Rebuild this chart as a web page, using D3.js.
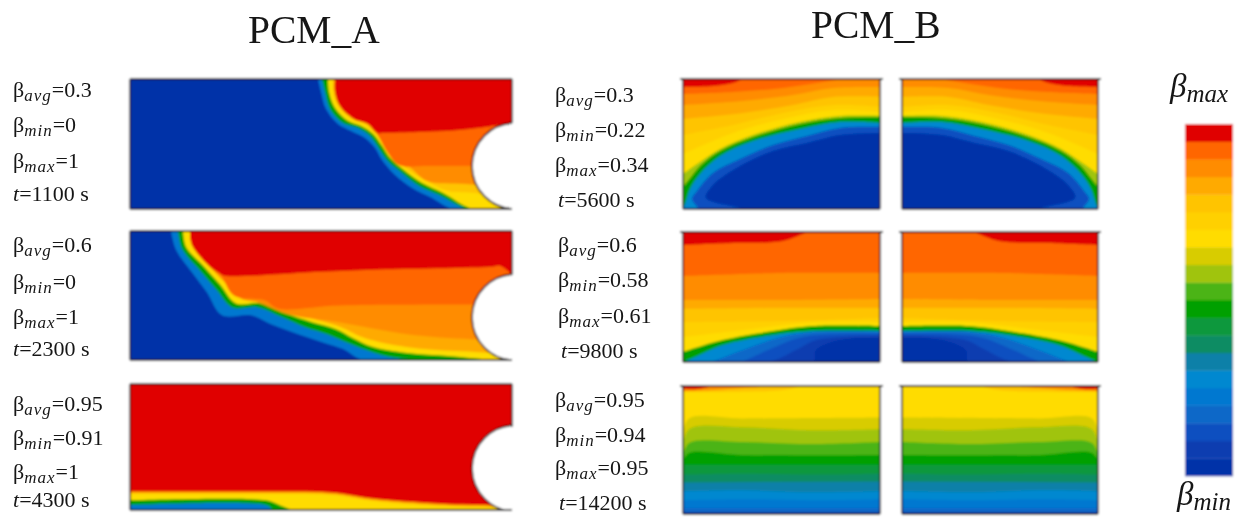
<!DOCTYPE html>
<html>
<head>
<meta charset="utf-8">
<script src="https://cdn.jsdelivr.net/npm/d3@7"></script>
<style>
  html, body { margin: 0; padding: 0; background: #fff; }
  text { font-family: "Liberation Serif", serif; fill: #161616; }
</style>
</head>
<body>
<div id="chart"></div>
<script>
// colour levels of the legend, lowest to highest
const levelColors = ["#0430a8", "#0a3cb0", "#0850c0", "#0868c8", "#0478d0", "#0088d0", "#0a80a8", "#0e8c64", "#10983c", "#00a000",
  "#4cb414", "#a0c408", "#d8cc00", "#ffdc00", "#ffd000", "#ffc400", "#ffaa00", "#ff8c00", "#ff6600", "#e00000"];

const avgValues = [["0.3", "0.6", "0.95"], ["0.3", "0.6", "0.95"]];
const minValues = [["0", "0", "0.91"], ["0.22", "0.58", "0.94"]];
const maxValues = [["1", "1", "1"], ["0.34", "0.61", "0.95"]];
const timeValues = [["1100 s", "2300 s", "4300 s"], ["5600 s", "9800 s", "14200 s"]];
const titles = ["PCM_A", "PCM_B"];

// contours: [level, points] in cell units, everything on the hot side of the line gets that level
// PCM_A cell is 382 x 130, PCM_B half cell is 197 x 130
const a1Contours = [
  [0, [[0, 0], [0, 130], [382, 130]]],
  [4, [[188, 0], [191, 13], [196, 30], [208, 45], [221, 52], [235, 59], [245, 69], [252, 81], [265, 96], [282, 109], [302, 119], [323, 130], [382, 130]]],
  [9, [[192, 0], [195, 13], [200, 30], [213, 44], [228, 49], [240, 57], [248, 68], [257, 81], [272, 94], [289, 107], [309, 116], [338, 130], [382, 130]]],
  [13, [[198, 0], [199, 13], [205, 29], [218, 42], [231, 47], [243, 55], [252, 67], [260, 79], [275, 92], [292, 104], [313, 114], [343, 130], [382, 130]]],
  [15, [[203, 0], [203, 13], [208, 27], [222, 40], [235, 45], [245, 54], [254, 65], [263, 77], [278, 91], [295, 101], [318, 112], [345, 114], [360, 118], [382, 125]]],
  [17, [[205, 0], [205, 13], [210, 27], [224, 40], [238, 45], [248, 54], [257, 65], [268, 78], [282, 90], [297, 102], [336, 105], [382, 108]]],
  [18, [[205, 0], [205, 13], [210, 27], [224, 40], [238, 45], [247, 55], [258, 74], [269, 86], [299, 87], [336, 87], [382, 87]]],
  [19, [[205, 0], [205, 13], [210, 27], [224, 40], [238, 45], [247, 54], [253, 54], [289, 53], [316, 52], [348, 49], [382, 44]]]
];
const a2Contours = [
  [0, [[0, 0], [0, 130], [382, 130]]],
  [4, [[41, 0], [46, 19], [63, 43], [77, 62], [92, 85], [121, 85], [141, 94], [168, 104], [192, 112], [213, 119], [233, 130], [382, 130]]],
  [9, [[48, 0], [52, 18], [70, 40], [87, 60], [102, 77], [128, 77], [152, 87], [175, 97], [197, 104], [216, 112], [236, 120], [260, 127], [311, 130], [382, 130]]],
  [13, [[53, 0], [56, 16], [74, 36], [90, 54], [106, 73], [131, 73], [155, 83], [182, 92], [206, 99], [223, 108], [243, 117], [277, 123], [318, 126], [365, 130], [382, 130]]],
  [16, [[60, 0], [62, 14], [80, 36], [97, 54], [111, 68], [138, 70], [162, 82], [211, 97], [230, 106], [250, 112], [294, 119], [345, 122], [382, 125]]],
  [17, [[60, 0], [62, 14], [80, 36], [97, 54], [111, 68], [128, 72], [158, 84], [209, 92], [277, 104], [341, 109], [382, 110]]],
  [18, [[60, 0], [62, 14], [80, 36], [90, 43], [104, 65], [135, 70], [148, 78], [209, 75], [338, 74], [382, 74]]],
  [19, [[60, 0], [62, 14], [80, 36], [90, 43], [94, 45], [192, 41], [243, 39], [362, 36], [370, 35], [382, 44]]]
];
const a3Contours = [
  [4, [[0, 130], [382, 130]]],
  [9, [[0, 125], [136, 125], [145, 130], [382, 130]]],
  [13, [[0, 120], [136, 120], [150, 125], [165, 130], [382, 130]]],
  [16, [[0, 113], [135, 113], [200, 114], [249, 121], [319, 126], [371, 128], [382, 130]]],
  [19, [[0, 111], [140, 111], [200, 112], [249, 119], [319, 124], [371, 126], [382, 129]]]
];
const b1Contours = [
  [0, [[0, 130], [197, 130]]],
  [2, [[0, 130], [60, 130], [23, 119], [30, 106], [57, 87], [90, 72], [124, 64], [157, 56], [197, 54]]],
  [5, [[0, 130], [15, 130], [9, 120], [14, 112], [30, 94], [57, 80], [90, 66], [124, 57], [157, 49], [197, 48]]],
  [9, [[0, 130], [3, 122], [7, 110], [17, 95], [37, 77], [70, 62], [117, 50], [157, 43], [197, 44]]],
  [11, [[0, 108], [8, 98], [18, 86], [37, 72], [70, 58], [117, 45], [157, 39], [197, 38]]],
  [13, [[0, 95], [17, 83], [37, 70], [70, 56], [117, 43], [157, 37], [197, 37]]],
  [14, [[0, 75], [50, 54], [100, 40], [150, 31], [197, 33]]],
  [15, [[0, 56], [50, 46], [100, 34], [150, 26], [197, 28]]],
  [16, [[0, 40], [60, 34], [110, 26], [150, 18], [197, 18]]],
  [17, [[0, 26], [60, 22], [110, 16], [150, 9], [197, 8]]],
  [18, [[0, 15], [50, 13], [100, 9], [140, 3], [160, 0]]],
  [19, [[0, 8], [30, 7], [50, 4], [60, 0]]]
];
const b2Contours = [
  [0, [[0, 130], [197, 130]]],
  [1, [[0, 130], [130, 130], [133, 118], [157, 108], [197, 106]]],
  [2, [[0, 130], [85, 130], [115, 117], [133, 108], [197, 104]]],
  [3, [[0, 130], [55, 130], [85, 118], [120, 105], [197, 102]]],
  [5, [[0, 130], [25, 130], [60, 118], [95, 106], [130, 100], [197, 100]]],
  [9, [[0, 130], [12, 125], [40, 113], [90, 103], [130, 99], [197, 99]]],
  [13, [[0, 120], [12, 116], [40, 108], [90, 99], [130, 94], [197, 94]]],
  [14, [[0, 105], [60, 98], [130, 90], [197, 90]]],
  [15, [[0, 90], [100, 89], [197, 86]]],
  [16, [[0, 77], [100, 76], [197, 76]]],
  [17, [[0, 68], [100, 68], [197, 67]]],
  [18, [[0, 44], [60, 42], [100, 41], [197, 41]]],
  [19, [[0, 13], [50, 11], [100, 9], [124, 0]]]
];
const b3Contours = [
  [1, [[0, 130], [197, 130]]],
  [3, [[0, 128], [197, 128]]],
  [4, [[0, 124], [197, 124]]],
  [5, [[0, 116], [60, 115], [130, 116], [197, 115]]],
  [6, [[0, 107], [60, 106], [130, 108], [197, 107]]],
  [7, [[0, 98], [197, 97]]],
  [8, [[0, 90], [60, 89], [130, 90], [197, 89]]],
  [9, [[0, 80], [197, 80]]],
  [10, [[0, 76], [6, 68], [60, 70], [197, 70]]],
  [11, [[0, 72], [6, 58], [60, 57], [130, 59], [197, 57]]],
  [12, [[0, 65], [6, 44], [60, 42], [130, 45], [197, 44]]],
  [13, [[0, 50], [6, 33], [60, 33], [197, 32]]],
  [15, [[0, 6], [40, 6], [100, 4], [120, 0]]],
  [17, [[0, 5], [30, 4], [60, 2], [100, 0]]],
  [19, [[0, 3], [15, 3], [30, 0]]]
];

const width = 1243, height = 521;
const cellH = 130;
const holeCx = 385, holeCy = 87, holeR = 43;

const svg = d3.select("#chart").append("svg")
  .attr("width", width)
  .attr("height", height)
  .style("display", "block");

const defs = svg.append("defs");

// source figure is a soft raster
function softFilter(id, amount) {
  defs.append("filter")
    .attr("id", id)
    .attr("filterUnits", "userSpaceOnUse")
    .attr("x", 0).attr("y", 0)
    .attr("width", width).attr("height", height)
    .append("feGaussianBlur")
    .attr("stdDeviation", amount);
}
softFilter("softCells", 0.8);
softFilter("softText", 0.35);

const root = svg.append("g").attr("filter", "url(#softCells)");
root.append("rect").attr("width", width).attr("height", height).attr("fill", "#fff");
const labels = svg.append("g").attr("filter", "url(#softText)");

const levelColor = d3.scaleOrdinal(d3.range(levelColors.length), levelColors);
let clipId = 0;

function drawCell(contours, cellW, xRange, yRange, hole) {
  const x = d3.scaleLinear().domain([0, cellW]).range(xRange);
  const y = d3.scaleLinear().domain([0, cellH]).range(yRange);
  const line = d3.line().x(d => x(d[0])).y(d => y(d[1])).curve(d3.curveCatmullRom.alpha(0.5));
  // close every region round the top of the cell
  const closing = "L" + x(cellW) + "," + y(0) + "L" + x(0) + "," + y(0) + "Z";

  clipId++;
  defs.append("clipPath").attr("id", "cell" + clipId)
    .append("rect")
    .attr("x", Math.min(x(0), x(cellW))).attr("y", y(0))
    .attr("width", Math.abs(x(cellW) - x(0))).attr("height", y(cellH) - y(0));

  const g = root.append("g");
  g.append("g").attr("clip-path", "url(#cell" + clipId + ")")
    .selectAll("path")
    .data(contours)
    .join("path")
    .attr("fill", d => levelColor(d[0]))
    .attr("d", d => line(d[1]) + closing);

  if (hole) {
    g.append("circle")
      .attr("cx", x(holeCx)).attr("cy", y(holeCy))
      .attr("r", x(holeR) - x(0))
      .attr("fill", "#fff")
      .attr("stroke", "#1a1010")
      .attr("stroke-width", 1.6)
      .attr("clip-path", "url(#cell" + clipId + ")");
  }

  // frame
  const overhang = hole ? 0 : 3;
  const xa = Math.min(x(0), x(cellW)) - overhang, xb = Math.max(x(0), x(cellW)) + overhang;
  const frame = g.append("g").attr("stroke", "#1e1a1e").attr("fill", "none");
  frame.append("line").attr("x1", xa).attr("x2", xb).attr("y1", y(0)).attr("y2", y(0)).attr("stroke-width", 2.2);
  frame.append("line").attr("x1", x(0)).attr("x2", x(0)).attr("y1", y(0)).attr("y2", y(cellH)).attr("stroke-width", 1.6);
  frame.append("line").attr("x1", x(cellW)).attr("x2", x(cellW)).attr("y1", y(0)).attr("y2", y(hole ? holeCy - holeR : cellH)).attr("stroke-width", 1.6);
  frame.append("line").attr("x1", x(0)).attr("x2", x(cellW)).attr("y1", y(cellH)).attr("y2", y(cellH)).attr("stroke-width", 1.8);
}

drawCell(a1Contours, 382, [130, 512], [79, 209], true);
drawCell(a2Contours, 382, [130, 512], [231, 360], true);
drawCell(a3Contours, 382, [130, 512], [384, 510], true);

const bRows = [[b1Contours, [79, 209]], [b2Contours, [232, 362]], [b3Contours, [386, 514]]];
bRows.forEach(([contours, yRange]) => {
  drawCell(contours, 197, [683, 880], yRange, false);
  drawCell(contours, 197, [1098, 902], yRange, false); // right half is the mirror image
});

// titles
labels.selectAll(".title")
  .data(titles)
  .join("text")
  .attr("class", "title")
  .attr("x", (d, i) => [248, 811][i])
  .attr("y", (d, i) => [43, 38][i])
  .attr("font-size", 39.5)
  .text(d => d);

// parameter labels
function beta(y, x, sub, val) {
  const t = labels.append("text").attr("x", x).attr("y", y).attr("font-size", 22);
  t.append("tspan").text("β");
  t.append("tspan").attr("font-style", "italic").attr("font-size", 17).attr("letter-spacing", 1).attr("dy", 4).text(sub);
  t.append("tspan").attr("dy", -4).text("=" + val);
}
function timeLabel(y, x, val) {
  const t = labels.append("text").attr("x", x).attr("y", y).attr("font-size", 22);
  t.append("tspan").attr("font-style", "italic").text("t");
  t.append("tspan").text("=" + val);
}

const labelBaselines = [
  [[97, 132, 168, 201], [252, 289, 324, 356], [411, 445, 479, 507]],
  [[102, 137, 172, 207], [252, 287, 323, 358], [407, 442, 475, 510]]
];
const labelX = [[[13, 13], [13, 13], [13, 13]], [[555, 558], [558, 561], [555, 559]]];

d3.range(2).forEach(col => d3.range(3).forEach(row => {
  const ys = labelBaselines[col][row];
  const [bx, tx] = labelX[col][row];
  beta(ys[0], bx, "avg", avgValues[col][row]);
  beta(ys[1], bx, "min", minValues[col][row]);
  beta(ys[2], bx, "max", maxValues[col][row]);
  timeLabel(ys[3], tx, timeValues[col][row]);
}));

// legend bar
const legendY = d3.scaleBand().domain(d3.range(levelColors.length)).range([476, 124]);
root.selectAll(".legend")
  .data(d3.range(levelColors.length))
  .join("rect")
  .attr("class", "legend")
  .attr("x", 1185)
  .attr("width", 48)
  .attr("y", d => legendY(d))
  .attr("height", legendY.bandwidth() + 0.3)
  .attr("fill", d => levelColor(d));

const legendLabels = [["max", 1170, 97], ["min", 1177, 505]];
legendLabels.forEach(([sub, x, y]) => {
  const t = labels.append("text").attr("x", x).attr("y", y).attr("font-size", 33).attr("font-style", "italic");
  t.append("tspan").text("β");
  t.append("tspan").attr("font-size", 25).attr("dy", 5).text(sub);
});
</script>
</body>
</html>
